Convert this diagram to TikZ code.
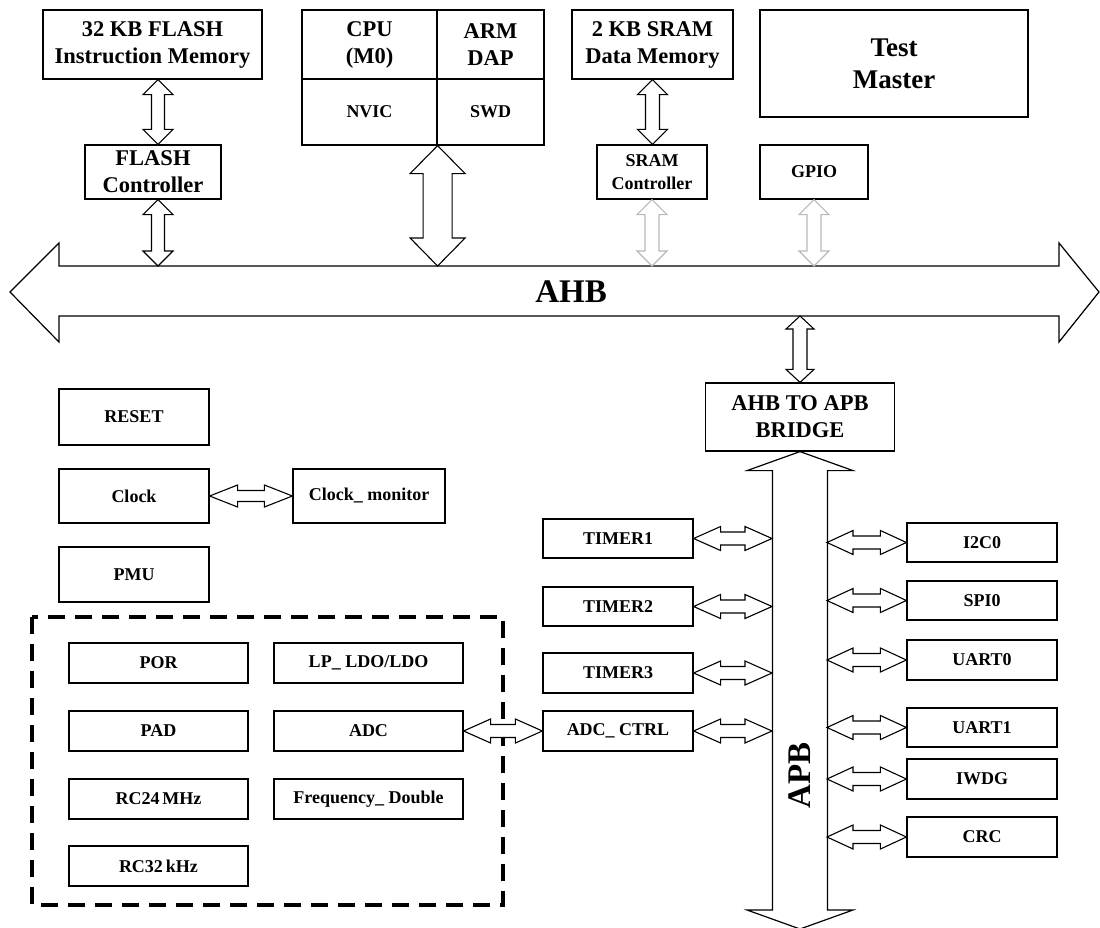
\documentclass[tikz,border=0pt]{standalone}
\usepackage{fontspec}
\setmainfont{Liberation Serif}
\usepackage{tikz}
\usetikzlibrary{calc, positioning}

% fonts
\newcommand{\lblbig}{\fontsize{22.5}{27}\selectfont\bfseries}
\newcommand{\lblsmall}{\fontsize{18}{23}\selectfont\bfseries}
\newcommand{\lbltest}{\fontsize{27}{32}\selectfont\bfseries}
\newcommand{\lblbus}{\fontsize{33}{38}\selectfont\bfseries}

% fat double arrows: [style]{from}{to}{head half}{shaft half}{head length}
\newcommand{\vlink}[6][]{%
  \draw[link,#1] let \p1=#2, \p2=#3 in
    (\x1,\y1) -- ({\x1+#4},{\y1-#6}) -- ({\x1+#5},{\y1-#6})
    -- ({\x1+#5},{\y2+#6}) -- ({\x1+#4},{\y2+#6}) -- (\x1,\y2)
    -- ({\x1-#4},{\y2+#6}) -- ({\x1-#5},{\y2+#6})
    -- ({\x1-#5},{\y1-#6}) -- ({\x1-#4},{\y1-#6}) -- cycle;}
\newcommand{\hlink}[6][]{%
  \draw[link,#1] let \p1=#2, \p2=#3 in
    (\x1,\y1) -- ({\x1+#6},{\y1+#4}) -- ({\x1+#6},{\y1+#5})
    -- ({\x2-#6},{\y1+#5}) -- ({\x2-#6},{\y1+#4}) -- (\x2,\y1)
    -- ({\x2-#6},{\y1-#4}) -- ({\x2-#6},{\y1-#5})
    -- ({\x1+#6},{\y1-#5}) -- ({\x1+#6},{\y1-#4}) -- cycle;}

\begin{document}
\begin{tikzpicture}[
    x=1pt, y=-1pt,
    box/.style={draw, line width=1.2pt, inner sep=0pt, align=center,
                font=\lblsmall},
    big/.style={box, font=\lblbig},
    sz/.style 2 args={minimum width=#1pt, minimum height=#2pt},
    link/.style={draw=black, fill=white, line width=1.1pt, line join=miter},
    faint/.style={draw=gray!55},
    bus/.style={link, line width=1.2pt},
    buslabel/.style={inner sep=0pt, font=\lblbus},
    group/.style={line width=3.2pt, dash pattern=on 17pt off 10pt},
]
    \useasboundingbox (0,0) rectangle (1100,928);

    % AHB bus
    \coordinate (ahbT) at (0,266);
    \coordinate (ahbB) at (0,316);
    \draw[bus] (10,292) -- (59,243) -- (59,266) -- (1059,266) -- (1059,243)
               -- (1099,292) -- (1059,342) -- (1059,316) -- (59,316)
               -- (59,342) -- cycle;
    \node[buslabel] (ahb) at (571,292) {AHB};

    % Memories and masters
    \node[big, sz={219}{69}] (flashmem) at (152.5,44.5)
          {32 KB FLASH\\Instruction Memory};
    \node[big, sz={136}{54}] (flashctrl) at (153,172) {FLASH\\Controller};
    \node[big, sz={135}{69}] (cpu) at (369.5,44.5) {CPU\\(M0)};
    \node[big, sz={107}{69}] (dap) at (490.5,44.5) {ARM\\DAP};
    \node[box, sz={135}{66}] (nvic) at (369.5,112) {NVIC};
    \node[box, sz={107}{66}] (swd) at (490.5,112) {SWD};
    \node[big, sz={161}{69}] (srammem) at (652.5,44.5)
          {2 KB SRAM\\Data Memory};
    \node[box, sz={110}{54}] (sramctrl) at (652,172) {SRAM\\Controller};
    \node[box, sz={268}{107}, font=\lbltest] (test) at (894,63.5)
          {Test\\Master};
    \node[box, sz={108}{54}] (gpio) at (814,172) {GPIO};

    \vlink{([xshift=5.5pt]flashmem.south)}{(flashctrl.north)}{15pt}{6.5pt}{15pt}
    \vlink{([xshift=5pt]flashctrl.south)}{(ahbT)}{15pt}{6.5pt}{15pt}
    \vlink{(nvic.south east)}{(ahbT)}{27.5pt}{14.5pt}{28pt}
    \vlink{(srammem.south)}{(sramctrl.north)}{15pt}{7pt}{15pt}
    \vlink[faint]{(sramctrl.south)}{(ahbT)}{15pt}{7pt}{15pt}
    \vlink[faint]{(gpio.south)}{(ahbT)}{15pt}{7pt}{15pt}

    % Bridge and APB bus
    \node[big, sz={189}{68}] (bridge) at (800,417) {AHB TO APB\\BRIDGE};
    \vlink{(bridge.north |- ahbB)}{(bridge.north)}{14pt}{7pt}{13pt}

    \coordinate (apbend) at (800,929);
    \coordinate (apbL) at (772,0);
    \coordinate (apbR) at (827,0);
    \vlink[bus]{(bridge.south)}{(apbend)}{53pt}{27.5pt}{19pt}
    \node[buslabel, rotate=90] (apb) at (800,775) {APB};

    % System blocks
    \node[box, sz={150}{56}] (reset) at (134,417) {RESET};
    \node[box, sz={150}{54}] (clock) at (134,496) {Clock};
    \node[box, sz={152}{54}] (clkmon) at (369,496) {Clock\_ monitor};
    \node[box, sz={150}{55}] (pmu) at (134,574.5) {PMU};
    \hlink{(clock.east)}{(clkmon.west)}{11pt}{5.5pt}{28pt}

    % Analog group
    \draw[group] (32,617) rectangle (503,905);
    \node[box, sz={179}{40}] (por) at (158.5,663) {POR};
    \node[box, sz={189}{40}] (ldo) at (368.5,663) {LP\_ LDO/LDO};
    \node[box, sz={179}{40}] (pad) at (158.5,731) {PAD};
    \node[box, sz={189}{40}] (adc) at (368.5,731) {ADC};
    \node[box, sz={179}{40}] (rc24) at (158.5,799) {RC24\,MHz};
    \node[box, sz={189}{40}] (freq) at (368.5,799) {Frequency\_ Double};
    \node[box, sz={179}{40}] (rc32) at (158.5,866) {RC32\,kHz};

    % APB peripherals, left
    \node[box, sz={150}{39}] (timer1) at (618,538.5) {TIMER1};
    \node[box, sz={150}{39}] (timer2) at (618,606.5) {TIMER2};
    \node[box, sz={150}{40}] (timer3) at (618,673) {TIMER3};
    \node[box, sz={150}{40}] (adcctrl) at (618,731) {ADC\_ CTRL};
    \foreach \per in {timer1, timer2, timer3, adcctrl}
        \hlink{(\per.east)}{(apbL)}{12pt}{6.5pt}{27pt};
    \hlink{(adc.east)}{(adcctrl.west)}{12pt}{6.5pt}{27pt}

    % APB peripherals, right
    \node[box, sz={150}{39}] (i2c) at (982,542.5) {I2C0};
    \node[box, sz={150}{39}] (spi) at (982,600.5) {SPI0};
    \node[box, sz={150}{40}] (uart0) at (982,660) {UART0};
    \node[box, sz={150}{39}] (uart1) at (982,727.5) {UART1};
    \node[box, sz={150}{40}] (iwdg) at (982,779) {IWDG};
    \node[box, sz={150}{40}] (crc) at (982,837) {CRC};
    \foreach \per in {i2c, spi, uart0, uart1, iwdg, crc}
        \hlink{(apbR |- \per.west)}{(\per.west)}{12pt}{6.5pt}{26pt};

\end{tikzpicture}
\end{document}
